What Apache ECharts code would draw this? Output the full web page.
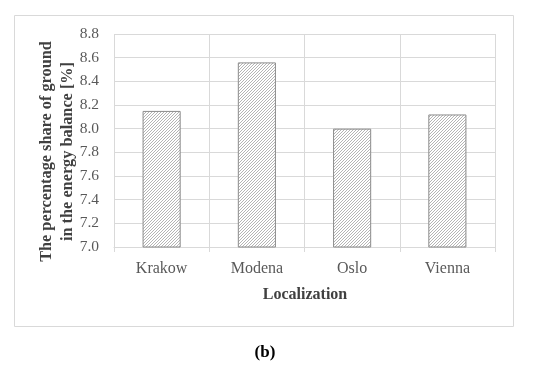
<!DOCTYPE html>
<html>
<head>
<meta charset="utf-8">
<style>html,body{margin:0;padding:0;background:#fff;}#main{width:550px;height:368px;}</style>
<script src="https://cdn.jsdelivr.net/npm/echarts@6/dist/echarts.min.js"></script>
</head>
<body>
<div id="main"></div>
<script>
var categories = ['Krakow', 'Modena', 'Oslo', 'Vienna'];
var values = [8.15, 8.56, 8.00, 8.12];
var yTicks = ['7.0','7.2','7.4','7.6','7.8','8.0','8.2','8.4','8.6','8.8'];

function hatch() {
  var s = 3;
  var c = document.createElement('canvas');
  c.width = s; c.height = s;
  var g = c.getContext('2d');
  g.fillStyle = '#ffffff';
  g.fillRect(0, 0, s, s);
  g.strokeStyle = '#b4b4b4';
  g.lineWidth = 1;
  g.beginPath();
  g.moveTo(0, s); g.lineTo(s, 0);
  g.moveTo(-1, 1); g.lineTo(1, -1);
  g.moveTo(s - 1, s + 1); g.lineTo(s + 1, s - 1);
  g.stroke();
  return c;
}

var font = '"Liberation Serif", "DejaVu Serif", serif';
var chart = echarts.init(document.getElementById('main'));
chart.setOption({
  animation: false,
  grid: { left: 114, right: 55, top: 34, bottom: 121 },
  graphic: [
    { type: 'rect', shape: { x: 14.5, y: 15.5, width: 499, height: 311 },
      style: { fill: 'none', stroke: '#d9d9d9', lineWidth: 1 }, z: 0 },
    { type: 'text', x: 305, y: 295, style: { text: 'Localization', font: 'bold 16px ' + font, fill: '#404040', align: 'center', verticalAlign: 'middle' } },
    { type: 'text', x: 265, y: 353, style: { text: '(b)', font: 'bold 17px ' + font, fill: '#000', align: 'center', verticalAlign: 'middle' } },
    { type: 'text', x: 47, y: 151.5, rotation: Math.PI / 2, style: { text: 'The percentage share of ground', font: 'bold 16.3px ' + font, fill: '#404040', align: 'center', verticalAlign: 'middle' } },
    { type: 'text', x: 68, y: 151.5, rotation: Math.PI / 2, style: { text: 'in the energy balance [%]', font: 'bold 16.3px ' + font, fill: '#404040', align: 'center', verticalAlign: 'middle' } }
  ],
  xAxis: {
    type: 'category',
    data: categories,
    axisLine: { lineStyle: { color: '#d9d9d9', width: 1 } },
    axisTick: { show: true, length: 5, lineStyle: { color: '#d9d9d9' } },
    splitLine: { show: true, lineStyle: { color: '#d9d9d9', width: 1 } },
    axisLabel: { color: '#595959', fontFamily: font, fontSize: 16, margin: 14 }
  },
  yAxis: {
    type: 'value',
    min: 7.0, max: 8.8, interval: 0.2,
    axisLine: { show: false },
    axisTick: { show: false },
    splitLine: { lineStyle: { color: '#d9d9d9', width: 1 } },
    axisLabel: { color: '#595959', fontFamily: font, fontSize: 15.5, margin: 15,
      formatter: function (v) { return yTicks[Math.round((v - 7.0) / 0.2)]; } }
  },
  series: [{
    type: 'bar',
    data: values,
    barWidth: '40%',
    itemStyle: {
      color: { image: hatch(), repeat: 'repeat' },
      borderColor: '#8c8c8c',
      borderWidth: 1
    }
  }]
});
</script>
</body>
</html>
